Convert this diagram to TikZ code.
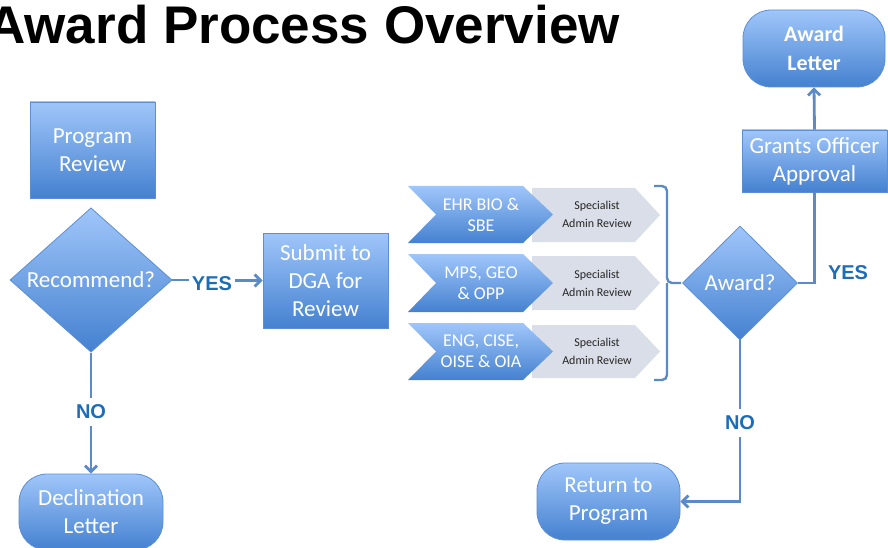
\documentclass[tikz,border=0pt]{standalone}
\usepackage{fontspec}
\setmainfont{Carlito}
\newfontfamily\arialf{Liberation Sans}
\usetikzlibrary{shapes.geometric, arrows.meta}
\definecolor{boxtop}{HTML}{A0C6FA}
\definecolor{boxbot}{HTML}{4481D0}
\definecolor{boxline}{HTML}{5C8ED3}
\definecolor{conn}{HTML}{5A8AC8}
\definecolor{lbl}{HTML}{1C6CB8}
\definecolor{grayfill}{HTML}{D9DEE8}
\definecolor{graytext}{HTML}{262626}
\begin{document}
\begin{tikzpicture}[x=1pt,y=-1pt,
  box/.style={draw=boxline, line width=0.8pt, top color=boxtop, bottom color=boxbot,
    text=white, font=\fontsize{23}{28}\selectfont, align=center, inner sep=0pt},
  term/.style={box, rounded corners=28pt},
  dia/.style={box, diamond, inner sep=0pt},
  chev/.style={top color=boxtop, bottom color=boxbot},
  grayc/.style={fill=grayfill},
  chevtext/.style={text=white, font=\fontsize{18}{21}\selectfont, align=center, inner sep=0pt},
  spectext/.style={text=graytext, font=\fontsize{12}{18}\selectfont, align=center, inner sep=0pt},
  conn/.style={draw=conn, line width=2.8pt},
  arr/.style={conn, -{Straight Barb[length=6pt,width=12pt]}},
  lab/.style={text=lbl, font=\arialf\bfseries\fontsize{20}{24}\selectfont, inner xsep=3pt, inner ysep=7pt},
  bracestyle/.style={draw=conn, line width=2.4pt, rounded corners=5pt}
]
\useasboundingbox (0,0) rectangle (888,548);

% title
\node[anchor=base east, inner sep=0pt, font=\arialf\bfseries\fontsize{53}{60}\selectfont] (title) at (620,44) {Award Process Overview};

% left column
\node[box, minimum width=125pt, minimum height=96pt] (prog) at (92.5,150) {Program\\Review};
\node[dia, minimum width=162pt, minimum height=142pt] (rec) at (91,280) {Recommend?};
\node[term, minimum width=144pt, minimum height=76pt] (decl) at (91,512) {Declination\\Letter};
\node[box, minimum width=125pt, minimum height=95pt] (submit) at (325.5,280.5) {Submit to\\DGA for\\Review};

\node[lab] (yes1) at (212,284) {YES};
\node[lab] (no1) at (91,412) {NO};
\draw[conn] (rec.east) -- (yes1.west |- rec.east);
\draw[arr] (yes1.east |- submit.west) -- (submit.west);
\draw[conn] (rec.south) -- (no1.north);
\draw[arr] (no1.south) -- (decl.north);

% chevrons
\fill[grayc] (532,188) -- (635,188) -- (660,215) -- (635,242) -- (532,242) -- cycle;
\shade[chev] (408,186) -- (523,186) -- (553,214.5) -- (523,243) -- (408,243) -- (436,214.5) -- cycle;
\node[chevtext] (chev1) at (481,214.5) {EHR BIO \&\\SBE};
\node[spectext] (spec1) at (597,214.5) {Specialist\\Admin Review};

\fill[grayc] (532,256) -- (635,256) -- (660,283) -- (635,310) -- (532,310) -- cycle;
\shade[chev] (408,254) -- (523,254) -- (553,283) -- (523,312) -- (408,312) -- (436,283) -- cycle;
\node[chevtext] (chev2) at (481,283) {MPS, GEO\\\& OPP};
\node[spectext] (spec2) at (597,283) {Specialist\\Admin Review};

\fill[grayc] (532,325) -- (635,325) -- (660,351.5) -- (635,378) -- (532,378) -- cycle;
\shade[chev] (408,323) -- (523,323) -- (553,351.5) -- (523,380) -- (408,380) -- (436,351.5) -- cycle;
\node[chevtext] (chev3) at (481,351.5) {ENG, CISE,\\OISE \& OIA};
\node[spectext] (spec3) at (597,351.5) {Specialist\\Admin Review};

% brace
\coordinate (bt) at (654,186);
\coordinate (bb) at (654,380);
\coordinate (bm) at (681,283);
\draw[bracestyle] (bt) -- (667,186) -- (667,283) -- (bm);
\draw[bracestyle] (bb) -- (667,380) -- (667,283);

% right column
\node[dia, minimum width=115pt, minimum height=114pt] (award) at (740,283) {Award?};
\node[box, minimum width=145pt, minimum height=62pt] (grants) at (814.5,161) {Grants Officer\\Approval};
\node[term, minimum width=142pt, minimum height=77pt, font=\bfseries\fontsize{22}{29}\selectfont] (letter) at (814,48.5) {Award\\Letter};
\node[term, minimum width=143pt, minimum height=77pt] (ret) at (608.5,501.5) {Return to\\Program};

\node[lab] (yes2) at (848,273) {YES};
\node[lab] (no2) at (740,423) {NO};
\draw[conn] (award.east) -| (grants.south);
\draw[arr] (grants.north) -- (letter.south);
\draw[conn] (award.south) -- (no2.north);
\draw[arr] (no2.south) |- (ret.east);
\end{tikzpicture}
\end{document}
